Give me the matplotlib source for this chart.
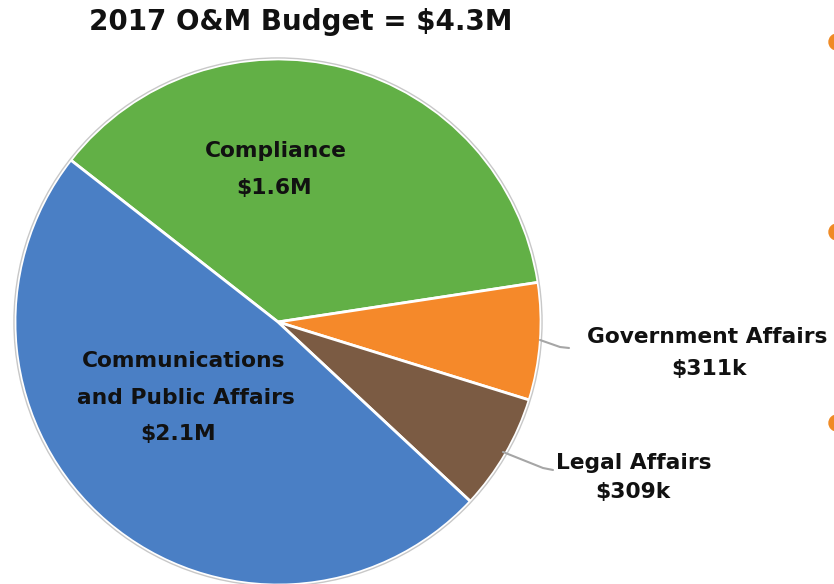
import matplotlib
matplotlib.use("Agg")
import matplotlib.pyplot as plt

categories = ["Compliance", "Government Affairs", "Legal Affairs", "Communications and Public Affairs"]
values_k = [1600, 311, 309, 2100]
value_labels = ["$1.6M", "$311k", "$309k", "$2.1M"]
title = "2017 O&M Budget = $4.3M"
colors = ["#62B046", "#F5892A", "#7B5B43", "#4A7FC5"]

W, H = 834, 584
CX, CY, R = 278, 322, 263

fig = plt.figure(figsize=(W / 100, H / 100), dpi=100)
ax = fig.add_axes([0, 0, 1, 1])


def P(px, py):
    return ((px - CX) / R, (CY - py) / R)

ax.pie(values_k, colors=colors, startangle=142, counterclock=False,
       radius=1.0, center=(0, 0),
       wedgeprops=dict(edgecolor="white", linewidth=2.0))
# thin light outline around pie
circ = plt.Circle((0, 0), 1.004, fill=False, edgecolor="#C8C8C8", linewidth=1.0)
ax.add_patch(circ)

fs = 15.7
tk = dict(fontsize=fs, fontweight="bold", family="DejaVu Sans", color="#111111",
          ha="center", va="baseline")

# title
ax.text(*P(301, 30), title, fontsize=20, fontweight="bold", family="DejaVu Sans",
        color="#111111", ha="center", va="baseline")

# Compliance
ax.text(*P(276, 157), categories[0], **tk)
ax.text(*P(274, 194), value_labels[0], **tk)

# Communications and Public Affairs
ax.text(*P(184, 367), "Communications", **tk)
ax.text(*P(186, 404), "and Public Affairs", **tk)
ax.text(*P(178, 440), value_labels[3], **tk)

# Government Affairs
ax.text(*P(707, 343), categories[1], **tk)
ax.text(*P(709, 375), value_labels[1], **tk)

# Legal Affairs
ax.text(*P(634, 469), categories[2], **tk)
ax.text(*P(633, 498), value_labels[2], **tk)

# leader lines
for pts in ([(540, 340), (560, 347), (569, 348)],
            [(503, 452), (543, 468), (553, 470)]):
    xs, ys = zip(*[P(x, y) for x, y in pts])
    ax.plot(xs, ys, color="#A6A6A6", linewidth=1.5, solid_capstyle="round")

# cut-off bullet dots on the right
for py in (42, 232, 423):
    ax.add_patch(plt.Circle(P(837, py), 8 / R, color="#F08A24", clip_on=True))

ax.set_xlim(-CX / R, (W - CX) / R)
ax.set_ylim(-(H - CY) / R, CY / R)
ax.set_aspect("equal")
ax.axis("off")

fig.savefig("out.png", dpi=100, facecolor="white")
